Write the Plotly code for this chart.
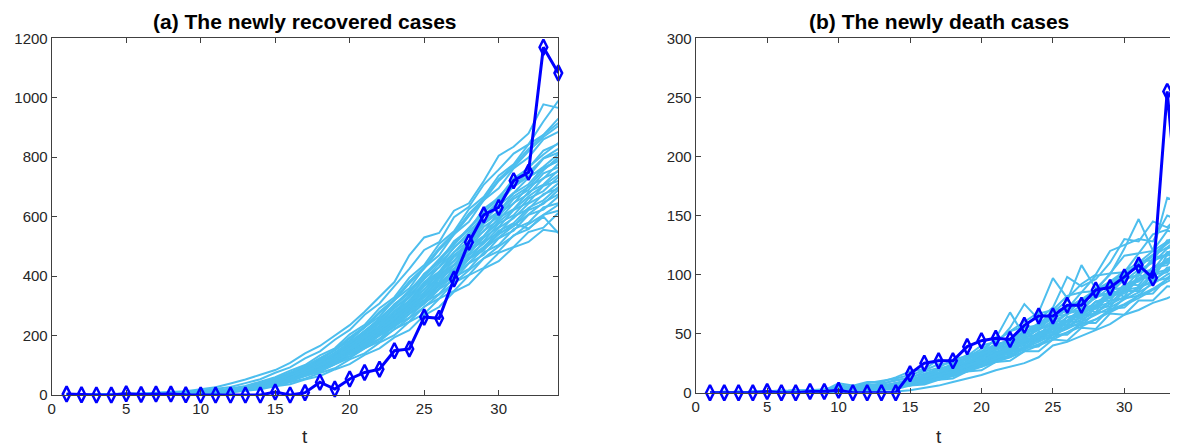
import plotly.graph_objects as go

t = list(range(1, 35))

# ---- (a) newly recovered: observed data ----
rec_obs = [3, 1, 0, 0, 4, 2, 3, 3, 1, 0, 0, 0, 0, 0, 10, 0, 8, 43, 20, 54, 76, 87, 149, 155,
           262, 258, 390, 514, 606, 631, 721, 749, 1170, 1083]

# ---- (a) simulated trajectories ----
rec_sim_A = [0,0,1,0,1,1,2,2,3,3,6,8,14,19,29,36,52,64,86,104,135,157,194,218,268,296,347,372,425,450,497,515,556,548]
rec_sim_B = [0,1,0,1,1,1,2,3,4,5,7,11,15,23,30,43,55,74,90,120,140,176,201,246,273,324,350,403,428,478,498,548,563,612]
rec_sim_C = [1,1,1,1,1,2,2,3,4,6,8,11,18,24,36,46,64,78,103,124,157,180,222,247,297,325,378,404,460,484,537,558,606,620]
rec_sim_D = [1,1,1,1,2,2,3,3,4,6,9,12,19,26,39,50,68,83,109,131,165,189,233,260,312,340,396,424,480,505,558,580,631,645]
rec_sim_E = [1,1,1,1,2,2,3,4,4,6,9,13,20,28,39,55,67,91,108,143,165,207,232,284,312,369,398,458,487,543,568,622,643,690]
rec_sim_F = [1,1,1,1,2,3,3,4,5,7,10,14,21,29,43,54,73,89,117,141,177,204,250,280,335,366,425,457,516,545,600,626,676,695]
rec_sim_G = [1,1,1,1,2,2,3,4,5,7,10,15,21,31,42,58,73,96,116,152,176,219,248,300,333,391,425,486,518,577,605,661,686,733]
rec_sim_H = [1,1,1,2,2,2,3,4,5,8,10,15,22,32,44,60,75,99,120,157,182,226,256,309,344,403,438,501,535,596,625,683,708,756]
rec_sim_I = [1,1,1,1,2,2,3,4,6,7,10,16,22,33,45,61,77,102,124,161,187,232,264,318,354,415,451,516,551,613,644,702,728,778]
rec_sim_J = [1,1,1,1,2,2,3,4,5,7,11,16,24,33,48,62,83,101,132,160,200,231,283,316,379,414,480,517,584,617,678,709,765,786]
rec_sim_K = [1,1,2,1,2,2,3,4,6,8,11,17,24,34,50,64,86,105,137,166,208,240,293,328,393,430,498,537,606,640,704,736,795,815]
rec_sim_L = [1,1,1,1,2,3,3,5,6,8,12,17,26,36,52,67,90,110,143,173,216,250,306,342,408,447,517,556,627,663,728,763,822,845]
rec_sim_M = [1,1,1,2,2,3,4,5,7,9,13,18,28,38,56,72,96,117,151,183,228,264,320,359,428,470,541,583,656,695,762,799,860,885]
rec_sim_N = [1,2,2,2,3,3,4,6,7,10,14,22,30,45,60,82,101,133,157,204,236,292,329,395,437,508,551,625,667,738,776,843,875,930]
rec_sim_O = [2,2,3,3,4,5,6,8,10,14,20,27,40,53,75,93,123,147,186,219,270,308,366,424,488,514,598,633,708,758,812,843,920,990]
rec_sim_P = [2,2,3,3,4,5,7,9,13,19,26,39,52,68,84,108,140,165,200,235,280,330,380,470,530,545,620,645,720,805,835,880,978,966]
rec_sim_Q = [1,1,1,1,2,2,3,4,5,7,10,14,21,30,42,56,72,92,116,146,176,210,246,286,328,372,416,458,500,540,576,560,600,545]
rec_sim_R = [1,1,1,1,2,2,3,4,5,6,9,14,19,30,40,56,69,92,111,145,169,208,240,285,320,372,408,462,497,552,578,630,655,700]
rec_sim_S = [1,1,1,1,2,2,3,4,5,7,10,14,22,31,44,58,77,97,124,153,189,221,266,303,357,396,452,495,553,588,646,676,730,752]
rec_sim_T = [1,1,1,1,2,2,3,4,5,8,11,16,24,35,48,65,84,108,135,171,205,246,290,336,389,440,494,548,603,651,704,748,797,828]
rec_sim_U = [1,1,1,1,2,2,3,3,4,6,9,13,18,28,38,53,66,88,106,138,161,200,228,272,306,356,388,443,472,527,553,606,624,668]
rec_sim_V = [1,1,2,2,2,3,4,5,7,9,13,19,28,40,56,74,95,122,150,190,226,275,318,375,425,488,540,602,655,720,765,820,868,905]
rec_sim_W = [1,1,1,1,2,2,3,4,5,7,11,15,23,33,47,61,81,101,129,160,196,230,278,314,372,410,470,511,576,612,668,700,756,800]
rec_sim_X = [1,1,1,1,2,2,3,4,5,7,9,14,21,29,43,55,74,93,119,147,181,212,256,293,340,381,436,475,530,565,622,648,704,720]
rec_sim_Y = [1,1,1,1,2,3,3,4,6,8,12,17,25,37,51,69,89,113,142,178,215,258,303,352,405,458,512,565,615,660,700,735,760,790]
rec_sim_Z1 = [1,1,1,1,2,2,3,4,5,6,9,14,20,30,41,56,71,93,114,146,173,212,244,290,330,377,418,470,510,562,595,644,672,712]
rec_sim_Z2 = [1,1,1,1,2,2,3,4,6,7,11,16,23,34,47,63,82,105,131,166,199,240,281,328,377,430,480,535,584,637,680,731,768,810]
rec_sim_Z3 = [1,1,1,1,2,2,3,4,5,7,10,15,21,32,43,59,74,97,120,152,182,220,257,300,345,392,439,488,535,582,623,668,704,740]
rec_sim_Z4 = [1,1,1,1,2,2,3,4,5,7,10,15,22,32,46,59,79,99,127,156,193,226,272,309,366,404,464,503,566,600,660,690,746,766]
rec_sim_Z5 = [1,1,1,1,2,2,3,3,4,6,9,13,19,28,40,52,69,87,110,139,168,200,236,274,316,358,403,445,491,530,572,608,647,675]
rec_sim_Z6 = [1,1,1,2,2,3,3,4,6,8,11,17,24,36,50,67,87,111,139,175,210,252,297,345,398,450,505,560,614,667,716,766,809,848]
rec_sim_Z7 = [1,1,2,2,3,3,4,5,7,9,13,19,28,41,56,76,96,124,152,194,230,280,322,382,430,494,545,610,660,726,772,828,875,915]
rec_sim_Z8 = [1,1,1,1,1,2,2,3,4,5,8,12,18,26,37,49,64,82,103,130,157,188,221,258,296,338,377,420,460,500,535,575,606,640]

rec_sims = [rec_sim_A, rec_sim_B, rec_sim_C, rec_sim_D, rec_sim_E, rec_sim_F, rec_sim_G,
            rec_sim_H, rec_sim_I, rec_sim_J, rec_sim_K, rec_sim_L, rec_sim_M, rec_sim_N,
            rec_sim_O, rec_sim_P, rec_sim_Q, rec_sim_R, rec_sim_S, rec_sim_T, rec_sim_U,
            rec_sim_V, rec_sim_W, rec_sim_X, rec_sim_Y, rec_sim_Z1, rec_sim_Z2, rec_sim_Z3,
            rec_sim_Z4, rec_sim_Z5, rec_sim_Z6, rec_sim_Z7, rec_sim_Z8]

# ---- (b) newly death: observed data ----
death_obs = [0, 0, 0, 0, 1, 0, 0, 1, 1, 2, 0, 0, 0, 0, 16, 25, 27, 27, 39, 44, 46, 45, 57, 65,
             65, 74, 74, 87, 89, 98, 108, 97, 255, 121]

# ---- (b) simulated trajectories ----
dth_sim_A = [0,0,0,0,0,0,0,0,0,0,0,1,1,1,2,4,6,9,12,15,19,22,25,30,40,43,48,53,58,66,70,76,80,85]
dth_sim_B = [0,0,0,0,0,0,1,0,1,1,1,2,3,3,6,7,11,12,18,19,26,27,35,35,45,44,55,54,67,66,78,78,90,89]
dth_sim_C = [0,0,0,0,1,0,1,1,0,2,1,3,3,4,7,8,13,14,20,22,29,30,38,39,49,49,59,59,71,72,83,84,97,96]
dth_sim_D = [0,0,0,0,1,1,0,1,1,2,2,2,4,5,6,11,11,17,18,26,27,35,36,46,46,57,57,68,69,80,82,94,97,107]
dth_sim_E = [0,0,1,0,1,1,1,1,1,2,3,3,4,6,8,10,14,16,22,24,32,33,43,44,54,55,65,67,78,80,90,93,106,106]
dth_sim_F = [0,0,0,0,1,1,1,1,2,2,2,3,4,7,8,11,12,18,21,27,29,37,40,49,51,61,63,73,76,87,89,101,104,115]
dth_sim_G = [0,1,0,0,1,1,1,1,1,2,3,3,5,6,9,10,15,17,24,25,33,35,45,46,57,58,69,71,82,84,96,99,113,113]
dth_sim_H = [0,0,0,0,1,1,1,2,1,3,2,4,4,7,8,12,13,19,21,28,31,39,42,51,54,64,66,77,80,91,94,106,110,121]
dth_sim_I = [0,0,0,1,1,1,1,1,2,2,3,3,5,6,9,11,15,18,25,27,35,37,47,49,60,61,72,74,87,89,102,104,119,119]
dth_sim_J = [0,0,0,0,1,1,2,1,1,3,2,4,4,7,9,13,14,20,23,31,33,42,45,55,57,68,70,83,84,98,99,114,117,130]
dth_sim_K = [0,0,1,0,1,1,1,2,2,3,3,4,6,7,10,12,17,19,27,29,38,40,51,53,65,66,79,81,95,96,111,112,129,128]
dth_sim_L = [0,0,0,0,1,2,1,1,2,4,3,5,5,8,11,13,19,21,29,32,41,44,55,57,70,71,85,86,101,102,118,120,137,135]
dth_sim_M = [0,0,0,1,1,1,2,2,3,5,4,7,7,11,12,18,21,28,31,40,43,52,56,67,70,82,85,99,101,116,118,134,138,150]
dth_sim_N = [0,0,0,1,1,1,1,2,1,6,5,8,10,12,15,19,24,25,30,37,44,52,60,68,97,80,92,100,120,125,130,128,150,145]
dth_sim_O = [0,0,0,0,1,1,2,1,2,8,6,9,9,13,18,20,28,26,32,34,46,68,48,58,68,78,108,88,100,122,147,120,165,160]
dth_sim_P = [0,0,0,0,1,1,1,1,2,4,4,6,8,10,13,16,20,24,29,35,41,55,75,62,72,98,90,96,110,130,128,145,140,152]
dth_sim_Q = [0,0,0,0,1,0,1,1,1,2,2,3,3,6,7,11,13,19,20,28,30,39,41,51,52,64,64,77,78,92,91,106,108,122]
dth_sim_R = [0,0,0,0,0,1,1,1,1,1,2,2,4,5,8,9,15,16,23,24,34,33,46,44,59,56,72,68,87,81,100,95,117,112]
dth_sim_S = [0,0,0,1,1,1,1,1,2,2,3,4,5,7,10,13,17,21,26,31,37,43,49,56,63,70,78,85,93,101,108,117,127,133]
dth_sim_T = [0,0,0,0,1,1,1,1,1,2,2,3,4,5,7,9,12,15,19,23,28,32,38,43,49,54,60,66,72,79,85,92,100,105]
dth_sim_U = [0,0,0,0,1,1,1,1,1,2,2,3,5,6,9,12,15,20,23,30,33,41,45,54,57,67,70,81,84,96,99,112,116,126]
dth_sim_V = [0,0,0,0,0,1,1,1,1,2,2,3,3,6,7,11,12,18,19,26,28,36,38,48,49,60,60,72,73,86,86,100,102,115]
dth_sim_W = [0,0,0,0,1,1,1,2,2,3,3,5,6,8,11,15,19,24,28,34,39,46,51,59,65,72,79,87,94,103,110,120,128,136]
dth_sim_X = [0,0,0,0,1,1,1,1,1,1,2,2,3,5,6,9,11,14,18,22,26,30,35,40,45,51,56,62,68,74,80,87,94,99]
dth_sim_Y1 = [0,0,0,0,1,1,1,1,1,2,2,3,4,6,8,11,14,17,22,26,32,36,43,48,55,60,67,73,81,87,95,101,112,117]
dth_sim_Y2 = [0,0,0,0,1,1,1,1,2,2,3,4,5,7,9,12,16,19,25,29,36,40,48,53,61,66,74,80,89,95,104,110,122,127]
dth_sim_Y3 = [0,0,0,0,0,1,1,1,1,2,2,3,4,5,7,10,13,16,20,25,29,34,39,45,50,56,62,68,75,81,88,95,103,109]
dth_sim_Y4 = [0,0,0,0,1,1,1,1,1,2,3,3,4,7,8,12,14,19,22,28,32,39,43,51,55,64,67,77,81,91,96,106,112,122]
dth_sim_Y5 = [0,0,0,1,1,1,1,2,2,3,3,4,6,8,10,13,17,22,26,32,38,43,50,57,64,70,77,84,93,100,108,116,126,134]
dth_sim_Y6 = [0,0,0,0,1,0,1,1,1,1,2,2,3,5,7,9,12,15,19,23,27,31,37,41,47,51,58,62,70,75,82,88,96,100]
dth_sim_Y7 = [0,0,0,0,1,1,1,1,1,2,2,3,4,6,8,11,15,18,23,27,33,37,44,49,56,61,69,74,83,88,97,102,113,118]
dth_sim_Y8 = [0,0,0,0,1,1,2,1,2,3,3,5,5,8,10,14,17,23,26,33,37,45,49,58,62,71,76,85,91,100,106,116,123,132]

dth_sims = [dth_sim_A, dth_sim_B, dth_sim_C, dth_sim_D, dth_sim_E, dth_sim_F, dth_sim_G,
            dth_sim_H, dth_sim_I, dth_sim_J, dth_sim_K, dth_sim_L, dth_sim_M, dth_sim_N,
            dth_sim_O, dth_sim_P, dth_sim_Q, dth_sim_R, dth_sim_S, dth_sim_T, dth_sim_U,
            dth_sim_V, dth_sim_W, dth_sim_X, dth_sim_Y1, dth_sim_Y2, dth_sim_Y3, dth_sim_Y4,
            dth_sim_Y5, dth_sim_Y6, dth_sim_Y7, dth_sim_Y8]

x_ticks = [0, 5, 10, 15, 20, 25, 30]
rec_y_ticks = [0, 200, 400, 600, 800, 1000, 1200]
dth_y_ticks = [0, 50, 100, 150, 200, 250, 300]
titles = ["(a) The newly recovered cases", "(b) The newly death cases"]
xlabel = "t"

SIM_COLOR = "#4DBEEE"
OBS_COLOR = "#0000FF"
AX_COLOR = "#404040"
FONT = "Liberation Sans, Arial, sans-serif"

W, H = 1178, 445
OFF = 8  # page body margin offset

# target pixel geometry in the page, converted to figure coordinates
L1, R1 = 51.7 - OFF, 558.3 - OFF
L2, R2 = 695.7 - OFF, 1181.5 - OFF
TOP = 38.3 - OFF
B1, B2 = 395.0 - OFF, 392.7 - OFF

def px(x):
    return x / W

def py(y):
    return 1 - y / H

fig = go.Figure()

for s in rec_sims:
    fig.add_trace(go.Scatter(x=t, y=s, mode="lines", line=dict(color=SIM_COLOR, width=2.0),
                             xaxis="x", yaxis="y", showlegend=False, hoverinfo="skip"))
fig.add_trace(go.Scatter(x=t, y=rec_obs, mode="lines+markers",
                         line=dict(color=OBS_COLOR, width=3),
                         marker=dict(symbol="diamond-tall-open", size=11, color=OBS_COLOR,
                                     line=dict(width=2.5, color=OBS_COLOR)),
                         xaxis="x", yaxis="y", showlegend=False, cliponaxis=False))

for s in dth_sims:
    fig.add_trace(go.Scatter(x=t, y=s, mode="lines", line=dict(color=SIM_COLOR, width=2.0),
                             xaxis="x2", yaxis="y2", showlegend=False, hoverinfo="skip"))
fig.add_trace(go.Scatter(x=t, y=death_obs, mode="lines+markers",
                         line=dict(color=OBS_COLOR, width=3),
                         marker=dict(symbol="diamond-tall-open", size=11, color=OBS_COLOR,
                                     line=dict(width=2.5, color=OBS_COLOR)),
                         xaxis="x2", yaxis="y2", showlegend=False, cliponaxis=False))

axis_common = dict(showline=True, linecolor=AX_COLOR, linewidth=1, ticks="inside", ticklen=5,
                   tickcolor=AX_COLOR, tickwidth=1, showgrid=False, zeroline=False,
                   automargin=False, mirror="ticks",
                   tickfont=dict(family=FONT, size=15, color="#262626"))

fig.update_layout(
    width=W, height=H, margin=dict(l=0, r=0, t=0, b=0, autoexpand=False),
    paper_bgcolor="white", plot_bgcolor="white",
    xaxis=dict(domain=[px(L1), px(R1)], range=[0, 34], tickvals=x_ticks, anchor="y", **axis_common),
    yaxis=dict(domain=[py(B1), py(TOP)], range=[0, 1200], tickvals=rec_y_ticks, anchor="x", **axis_common),
    xaxis2=dict(domain=[px(L2), px(R2)], range=[0, 34], tickvals=x_ticks, anchor="y2", **axis_common),
    yaxis2=dict(domain=[py(B2), py(TOP)], range=[0, 300], tickvals=dth_y_ticks, anchor="x2", **axis_common),
)

c1 = (L1 + R1) / 2
c2 = (L2 + R2) / 2
for cx, title in zip([c1, c2], titles):
    fig.add_annotation(text="<b>" + title + "</b>", x=px(cx), y=py(22 - OFF), xref="paper", yref="paper",
                       showarrow=False, xanchor="center", yanchor="middle",
                       font=dict(family=FONT, size=21, color="black"))
    fig.add_annotation(text=xlabel, x=px(cx), y=py(436 - OFF), xref="paper", yref="paper",
                       showarrow=False, xanchor="center", yanchor="middle",
                       font=dict(family=FONT, size=19, color="#262626"))

fig.write_html("out.html")
